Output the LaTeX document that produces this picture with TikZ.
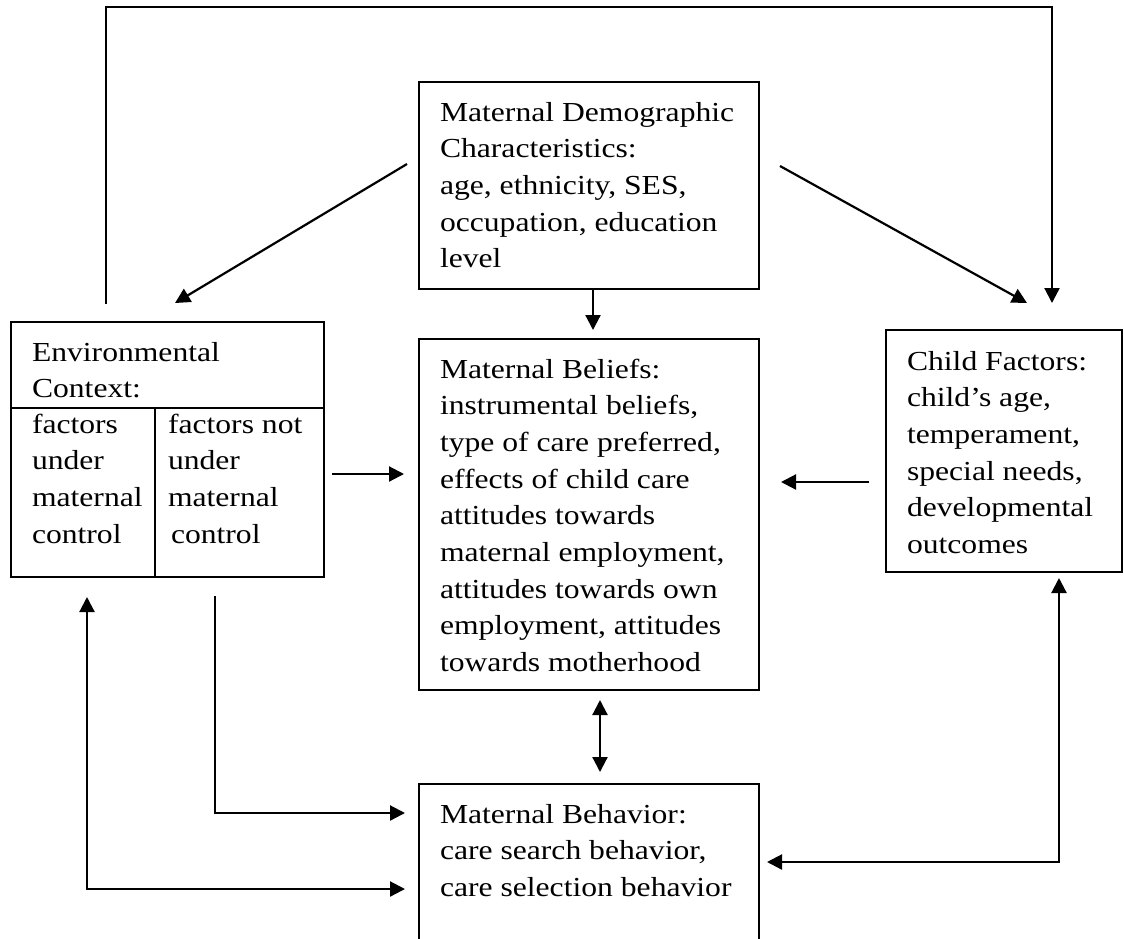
\documentclass[tikz,border=0pt]{standalone}
\usepackage{fontspec}
\setmainfont[FakeStretch=1.15]{Liberation Serif}
\usetikzlibrary{arrows.meta,calc}
\newcommand{\mlines}[1]{\begin{tabular}[t]{@{}l@{}}#1\end{tabular}}
\begin{document}
\begin{tikzpicture}[x=1pt,y=-1pt,
  boxnode/.style={draw, line width=1.8pt, rectangle, inner sep=0pt, outer sep=0pt, anchor=north west},
  txt/.style={anchor=base west, inner sep=0pt, outer sep=0pt, font=\fontsize{27.5}{36.7}\selectfont},
  divline/.style={line width=1.8pt},
  arr/.style={line width=2.2pt, -{Triangle[length=15pt,width=15pt]}},
  darr/.style={line width=2.2pt, {Triangle[length=15pt,width=15pt]}-{Triangle[length=15pt,width=15pt]}}]
\clip (0,0) rectangle (1124,938);
\fill[white] (0,0) rectangle (1124,938);

% boxes
\node[boxnode, minimum width=340pt, minimum height=207pt] (demo) at (419,82) {};
\node[boxnode, minimum width=313pt, minimum height=255pt] (env) at (11,322) {};
\node[boxnode, minimum width=340pt, minimum height=351pt] (bel) at (419,339) {};
\node[boxnode, minimum width=236pt, minimum height=242pt] (child) at (886,330) {};
\node[boxnode, minimum width=340pt, minimum height=170pt] (beh) at (419,784) {};

% environment box dividers
\draw[divline] ($(env.north west)+(0,86)$) -- ($(env.north east)+(0,86)$);
\draw[divline] ($(env.south west)+(144,0)$) -- ($(env.north west)+(144,86)$);

% texts
\node[txt] (demotxt) at (440,121) {\mlines{Maternal Demographic\\Characteristics:\\age, ethnicity, SES,\\occupation, education\\level}};
\node[txt] (envtxt) at (32,361) {\mlines{Environmental\\Context:}};
\node[txt] (envl) at (32,433) {\mlines{factors\\under\\maternal\\control}};
\node[txt] (envr) at (168,433) {\mlines{factors not\\under\\maternal\\\hspace{3pt}control}};
\node[txt] (beltxt) at (440,378) {\mlines{Maternal Beliefs:\\instrumental beliefs,\\type of care preferred,\\effects of child care\\attitudes towards\\maternal employment,\\attitudes towards own\\employment, attitudes\\towards motherhood}};
\node[txt] (childtxt) at (907,370) {\mlines{Child Factors:\\child’s age,\\temperament,\\special needs,\\developmental\\outcomes}};
\node[txt] (behtxt) at (440,823) {\mlines{Maternal Behavior:\\care search behavior,\\care selection behavior}};

% connectors
\draw[arr] ($(demo.west)+(-12,-21.5)$) -- ($(env.north)+(7.5,-19)$);
\draw[arr] ($(demo.east)+(21,-19.5)$) -- ($(child.north)+(23,-27)$);
\draw[arr] ($(demo.south)+(4,0)$) -- ($(bel.north)+(4,-9)$);

\coordinate (topline) at (0,7);
\coordinate (loopstart) at ($(env.north west)+(95,-18)$);
\draw[arr] (loopstart) -- (loopstart |- topline) -| ($(child.north)+(48,-27)$);

\coordinate (e2b) at ($(env.east)+(8,24.5)$);
\draw[arr, shorten >=15pt] (e2b) -- (e2b -| bel.west);

\coordinate (c2b) at ($(child.west)+(-17,31)$);
\draw[arr, shorten >=22pt] (c2b) -- (c2b -| bel.east);

\coordinate (e2h) at ($(env.south)+(47.5,19)$);
\draw[arr, shorten >=14pt] (e2h) |- ($(beh.north west)+(0,29)$);

\draw[darr] ($(env.south west)+(76,20)$) |- ($(beh.north west)+(-14,105)$);
\draw[darr] ($(beh.north east)+(8,78)$) -| ($(child.south)+(55,6)$);
\draw[darr] ($(bel.south)+(11,10)$) -- ($(beh.north)+(11,-12)$);
\end{tikzpicture}
\end{document}
